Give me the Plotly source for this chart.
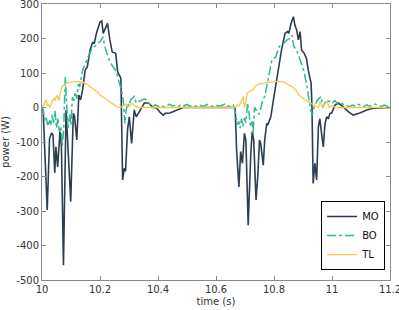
import plotly.graph_objects as go

# ---- data ----
mo_t = [10.000, 10.004, 10.018, 10.026, 10.033, 10.038, 10.044, 10.048, 10.054, 10.062,
        10.067, 10.074, 10.083, 10.099, 10.108, 10.112, 10.120, 10.127, 10.133, 10.140,
        10.149, 10.156, 10.166, 10.175, 10.180, 10.188, 10.200, 10.206, 10.211, 10.220,
        10.226, 10.234, 10.242, 10.254, 10.261, 10.272, 10.278, 10.284, 10.288, 10.295,
        10.301, 10.309, 10.318, 10.325, 10.340, 10.353, 10.367, 10.384, 10.395, 10.408,
        10.418, 10.425, 10.441, 10.465, 10.487, 10.666, 10.671, 10.679, 10.685, 10.691,
        10.698, 10.703, 10.711, 10.720, 10.725, 10.730, 10.738, 10.744, 10.750, 10.754,
        10.763, 10.768, 10.775, 10.778, 10.789, 10.798, 10.807, 10.815, 10.826, 10.838,
        10.847, 10.851, 10.859, 10.867, 10.872, 10.878, 10.884, 10.890, 10.895, 10.904,
        10.912, 10.918, 10.928, 10.931, 10.935, 10.941, 10.947, 10.953, 10.958, 10.964,
        10.970, 10.976, 10.982, 10.987, 10.993, 10.999, 11.010, 11.022, 11.039, 11.056,
        11.073, 11.096, 11.120, 11.142, 11.200]
mo_p = [0, -10, -297, -90, -74, -80, -190, -114, -172, -70,
        -114, -457, -7, -273, -17, -25, -94, 36, 22, 51,
        109, 117, 167, 190, 185, 216, 248, 251, 215, 230,
        244, 196, 161, 157, 103, 85, -210, -176, -185, -65,
        -27, -104, -7, -27, -7, 13, 13, 0, -1, -15,
        -22, -17, -16, -8, 0, 0, -123, -230, -128, -162,
        -75, -94, -341, -133, -70, -94, -268, -200, -94, -104,
        -167, -94, -46, -51, -27, 22, 70, 118, 167, 215,
        220, 215, 244, 263, 239, 225, 196, 220, 167, 157,
        142, 109, 70, 0, -220, -162, -210, -56, -33, -75,
        -114, -46, -27, -33, -17, -16, 7, 13, 2, -12,
        -22, -16, -7, -2, 0]

bo_t = [10.000, 10.005, 10.010, 10.015, 10.020, 10.025, 10.030, 10.035, 10.040, 10.045,
        10.050, 10.055, 10.060, 10.065, 10.070, 10.075, 10.080, 10.085, 10.090, 10.095,
        10.100, 10.105, 10.110, 10.115, 10.120, 10.125, 10.130, 10.140, 10.150, 10.160,
        10.170, 10.180, 10.190, 10.200, 10.210, 10.218, 10.234, 10.245, 10.257, 10.265,
        10.274, 10.280, 10.286, 10.290, 10.296, 10.300, 10.305, 10.318, 10.325, 10.345,
        10.355, 10.365, 10.380, 10.390, 10.400, 10.410, 10.420, 10.430, 10.440, 10.450,
        10.460, 10.470, 10.480, 10.490, 10.500, 10.510, 10.520, 10.530, 10.540, 10.550,
        10.560, 10.570, 10.580, 10.590, 10.600, 10.610, 10.620, 10.630, 10.640, 10.650,
        10.660, 10.668, 10.673, 10.678, 10.683, 10.688, 10.693, 10.698, 10.703, 10.709,
        10.714, 10.719, 10.724, 10.728, 10.733, 10.740, 10.748, 10.755, 10.761, 10.768,
        10.775, 10.784, 10.793, 10.806, 10.818, 10.833, 10.845, 10.855, 10.862, 10.868,
        10.878, 10.890, 10.902, 10.912, 10.920, 10.926, 10.932, 10.938, 10.950, 10.962,
        10.968, 10.980, 10.992, 11.000, 11.010, 11.020, 11.030, 11.040, 11.050, 11.060,
        11.070, 11.080, 11.090, 11.100, 11.110, 11.120, 11.130, 11.140, 11.150, 11.160,
        11.170, 11.180, 11.190, 11.200]
bo_p = [5, -10, -40, -30, -55, -35, -50, -20, -45, -10,
        -60, -30, -70, -55, -110, -60, 88, -10, -60, -20,
        -50, 30, 20, 45, 25, 68, 60, 109, 130, 150,
        167, 175, 186, 191, 205, 172, 133, 118, 104, 75,
        51, 22, -46, -7, 13, 3, 22, 32, 13, 22,
        25, 17, 0, 8, 3, 6, 2, 5, 10, 4,
        7, 3, 8, 5, 9, 4, 6, 3, 8, 5,
        4, 9, 5, 3, 7, 4, 6, 10, 5, 3,
        6, -20, -50, -40, -60, -33, -55, -30, -45, 13,
        -17, -55, -40, -75, 0, -10, -20, 0, 22, 32,
        61, 104, 138, 147, 177, 186, 196, 200, 210, 177,
        167, 138, 109, 70, 22, -7, -22, 0, 22, 32,
        0, 22, 17, 12, 20, 10, 14, 8, 5, 3,
        7, 4, 9, 5, 3, 8, 4, 6, 10, 5,
        3, 7, 4, 6]

tl_t = [10.000, 10.005, 10.010, 10.015, 10.018, 10.022, 10.027, 10.032, 10.037, 10.042,
        10.046, 10.050, 10.055, 10.058, 10.062, 10.066, 10.070, 10.076, 10.082, 10.090,
        10.100, 10.110, 10.125, 10.140, 10.150, 10.160, 10.170, 10.180, 10.190, 10.200,
        10.210, 10.220, 10.232, 10.245, 10.255, 10.270, 10.280, 10.290, 10.300, 10.310,
        10.320, 10.330, 10.666, 10.674, 10.680, 10.688, 10.694, 10.698, 10.702, 10.707,
        10.713, 10.720, 10.729, 10.735, 10.746, 10.760, 10.786, 10.800, 10.829, 10.840,
        10.862, 10.875, 10.886, 10.900, 10.917, 10.934, 10.952, 10.960, 10.968, 10.975,
        10.984, 10.990, 11.000, 11.020, 11.200]
tl_p = [0, 5, 15, 22, 5, 10, 0, 15, 22, 26,
        20, 36, 30, 20, 40, 54, 61, 65, 70, 72,
        74, 74, 75, 74, 70, 65, 58, 51, 46, 36,
        30, 26, 17, 10, 4, 0, 5, 10, 3, 12,
        5, 0, 0, 7, 5, 22, 32, 0, 10, 41,
        46, 49, 53, 61, 68, 70, 72, 75, 75, 70,
        61, 51, 36, 26, 17, 7, 0, 17, 0, 10,
        17, 0, 5, 0, 0]

series_names = ["MO", "BO", "TL"]
x_ticks = [10, 10.2, 10.4, 10.6, 10.8, 11, 11.2]
x_tick_labels = ["10", "10.2", "10.4", "10.6", "10.8", "11", "11.2"]
y_ticks = [-500, -400, -300, -200, -100, 0, 100, 200, 300]
y_tick_labels = ["-500", "-400", "-300", "-200", "-100", "0", "100", "200", "300"]

fig = go.Figure()
fig.add_trace(go.Scatter(x=mo_t, y=mo_p, name=series_names[0], mode="lines",
                         line=dict(color="#2c3e50", width=1.6)))
fig.add_trace(go.Scatter(x=bo_t, y=bo_p, name=series_names[1], mode="lines",
                         line=dict(color="#2eb894", width=1.5, dash="dashdot")))
fig.add_trace(go.Scatter(x=tl_t, y=tl_p, name=series_names[2], mode="lines",
                         line=dict(color="#f2c94c", width=1.3)))

axis_common = dict(showgrid=False, zeroline=False, showline=True, linecolor="#8a8a8a",
                   linewidth=1, mirror="allticks", ticks="inside", ticklen=4,
                   tickcolor="#8a8a8a", automargin=False, ticklabeloverflow="allow",
                   tickfont=dict(family="DejaVu Sans", size=10, color="#333"))

fig.update_layout(
    width=399, height=310,
    margin=dict(l=42, r=9, t=4, b=30),
    paper_bgcolor="white", plot_bgcolor="white",
    font=dict(family="DejaVu Sans", size=10, color="#333"),
    xaxis=dict(range=[10, 11.2], tickvals=x_ticks, ticktext=x_tick_labels,
               title=dict(text="time (s)", standoff=3, font=dict(size=10)), **axis_common),
    yaxis=dict(range=[-500, 300], tickvals=y_ticks, ticktext=y_tick_labels,
               title=dict(text="power (W)", standoff=4, font=dict(size=10)), **axis_common),
    legend=dict(x=0.986, y=0.036, xanchor="right", yanchor="bottom",
                bgcolor="white", bordercolor="black", borderwidth=1,
                font=dict(family="DejaVu Sans", size=10, color="#111"),
                itemwidth=30, tracegroupgap=4),
    showlegend=True,
)

fig.write_html("out.html", config={"displayModeBar": False},
               post_script="document.body.style.margin='0';document.body.style.overflow='hidden';")
